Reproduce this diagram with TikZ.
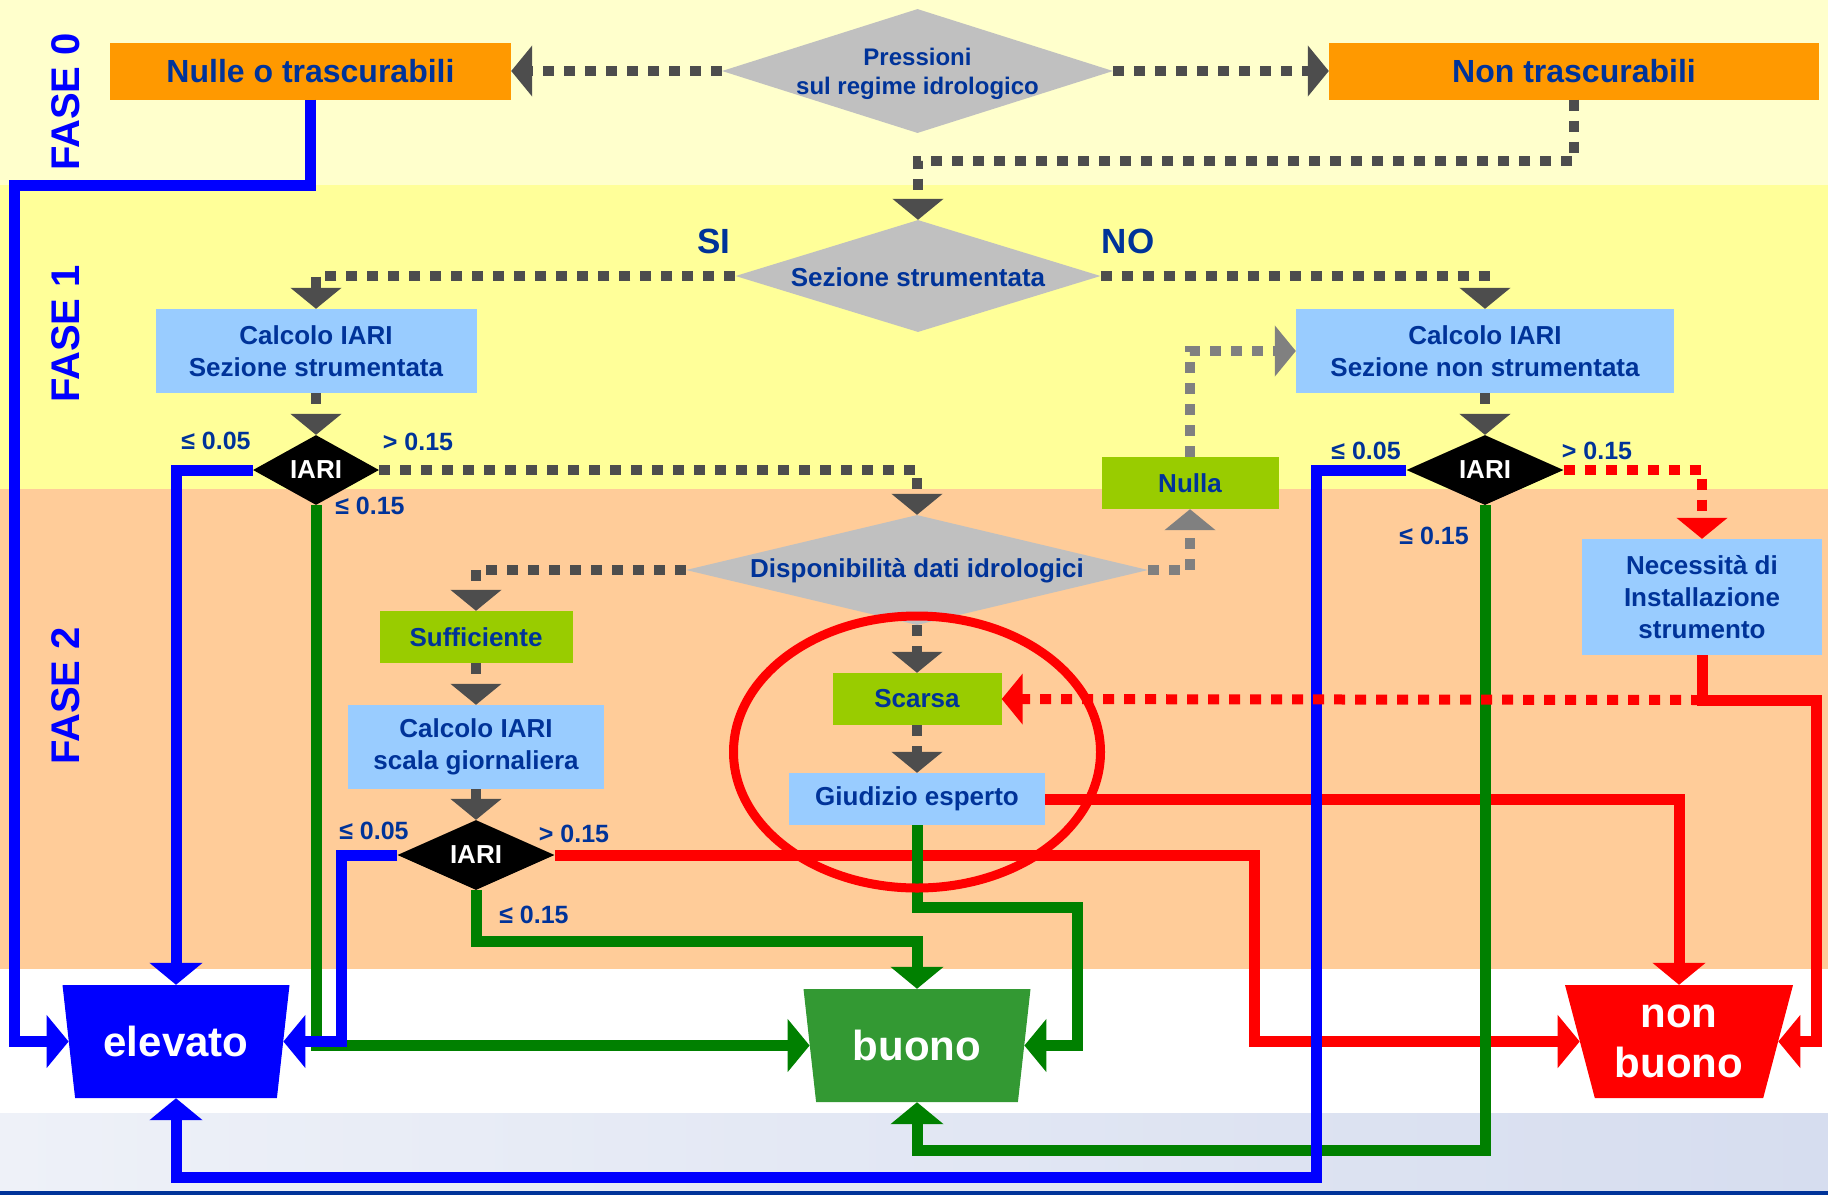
\documentclass[tikz,border=0pt]{standalone}
\usepackage{fontspec}
\setmainfont{Liberation Sans}
\usetikzlibrary{arrows.meta,shapes.geometric}
\definecolor{navy}{RGB}{0,51,153}
\definecolor{fblue}{RGB}{0,0,255}
\definecolor{bgA}{RGB}{255,255,204}
\definecolor{bgB}{RGB}{255,255,153}
\definecolor{bgC}{RGB}{255,204,153}
\definecolor{bandL}{RGB}{238,241,248}
\definecolor{bandR}{RGB}{214,221,239}
\definecolor{botline}{RGB}{0,51,153}
\definecolor{orng}{RGB}{255,153,0}
\definecolor{gdia}{RGB}{192,192,192}
\definecolor{lblue}{RGB}{153,204,255}
\definecolor{lgreen}{RGB}{153,204,0}
\definecolor{bgreen}{RGB}{51,153,51}
\definecolor{lgreenline}{RGB}{0,128,0}
\definecolor{dgrayl}{RGB}{77,77,77}
\definecolor{lgrayl}{RGB}{128,128,128}
\tikzset{
  txt/.style={text=navy, font=\bfseries\fontsize{26}{32}\selectfont, align=center, inner sep=0pt},
  obox/.style={rectangle, fill=orng, inner sep=0pt, text=navy, font=\bfseries\fontsize{32}{36}\selectfont},
  bbox/.style={rectangle, fill=lblue, txt},
  gbox/.style={rectangle, fill=lgreen, txt},
  gdiam/.style={diamond, fill=gdia, inner sep=0pt},
  kdiam/.style={diamond, fill=black, inner sep=0pt, text=white, font=\bfseries\fontsize{26}{30}\selectfont},
  trap/.style={trapezium, shape border rotate=180, trapezium stretches body, trapezium angle=67.8,
     minimum width=227pt, minimum height=113pt, inner sep=0pt, text=white, align=center,
     font=\bfseries\fontsize{42}{50}\selectfont},
  lab/.style={text=navy, font=\bfseries\fontsize{25}{28}\selectfont, inner sep=0pt},
  fase/.style={rotate=90, text=fblue, font=\bfseries\fontsize{40}{40}\selectfont, inner sep=0pt},
  sino/.style={text=navy, font=\bfseries\fontsize{35}{40}\selectfont, inner sep=0pt},
  solid line/.style={line width=11pt, -{Triangle[length=22pt,width=52pt]}},
  bl/.style={draw=blue, solid line},
  gr/.style={draw=lgreenline, solid line},
  rd/.style={draw=red, solid line},
  dotline/.style={line width=10pt, dash pattern=on 11pt off 10pt, -{Triangle[length=21pt,width=50pt]}},
  dg/.style={draw=dgrayl, dotline},
  lg/.style={draw=lgrayl, dotline},
  rdot/.style={draw=red, dotline},
}
\begin{document}
\begin{tikzpicture}[x=1pt,y=-1pt]
\useasboundingbox (0,0) rectangle (1828,1195);
% background bands
\fill[bgA] (0,0) rectangle (1828,185);
\fill[bgB] (0,185) rectangle (1828,489);
\fill[bgC] (0,489) rectangle (1828,969);
\fill[white] (0,969) rectangle (1828,1113);
\shade[left color=bandL, right color=bandR] (0,1113) rectangle (1828,1191);
\fill[botline] (0,1191) rectangle (1828,1195);

% phase labels
\node[fase] (f0) at (66,102) {FASE 0};
\node[fase] (f1) at (66,334) {FASE 1};
\node[fase] (f2) at (66,696) {FASE 2};

% nodes
\node[obox, minimum width=401pt, minimum height=57pt] (nulle) at (310.5,71) {Nulle o trascurabili};
\node[obox, minimum width=490pt, minimum height=57pt] (nontr) at (1574,71) {Non trascurabili};
\node[gdiam, minimum width=391pt, minimum height=124pt] (pres) at (917.5,71) {};
\node[txt, font=\bfseries\fontsize{24}{29}\selectfont] (prest) at (917.5,74) {Pressioni\\sul regime idrologico};
\node[gdiam, minimum width=365pt, minimum height=112pt] (sez) at (918,276) {};
\node[txt] (sezt) at (918,277) {Sezione strumentata};
\node[sino] (si) at (714,241) {SI};
\node[sino] (no) at (1128,241) {NO};
\node[bbox, minimum width=321pt, minimum height=84pt] (calc1) at (316,351) {Calcolo IARI\\Sezione strumentata};
\node[bbox, minimum width=378pt, minimum height=84pt] (calc2) at (1485,351) {Calcolo IARI\\Sezione non strumentata};
\node[kdiam, minimum width=126pt, minimum height=64pt] (ia1) at (316,470) {IARI};
\node[kdiam, minimum width=157pt, minimum height=64pt] (ia2) at (1485,470) {IARI};
\node[gdiam, minimum width=462pt, minimum height=110pt] (disp) at (917,570) {};
\node[txt] (dispt) at (917,571) {Disponibilità dati idrologici};
\node[gbox, minimum width=177pt, minimum height=52pt] (nulla) at (1190,483) {Nulla};
\node[gbox, minimum width=193pt, minimum height=52pt] (suff) at (476,637) {Sufficiente};
\node[bbox, minimum width=256pt, minimum height=84pt] (calc3) at (476,747) {Calcolo IARI\\scala giornaliera};
\node[kdiam, minimum width=157pt, minimum height=64pt] (ia3) at (476,855) {IARI};
\node[gbox, minimum width=169pt, minimum height=52pt] (scarsa) at (917,699) {Scarsa};
\node[bbox, minimum width=256pt, minimum height=52pt] (giud) at (917,799) {Giudizio esperto};
\node[bbox, minimum width=240pt, minimum height=116pt] (necc) at (1702,597) {Necessità di\\Installazione\\strumento};
\node[trap, fill=blue] (elev) at (176,1041.5) {elevato};
\node[trap, fill=bgreen] (buono) at (917,1045.5) {buono};
\node[trap, fill=red, minimum width=228pt] (nb) at (1679,1041.5) {non\\buono};
\coordinate (jn) at (1702,700);

% labels
\node[lab] (l1a) at (216,441) {≤ 0.05};
\node[lab] (l1b) at (418,442) {> 0.15};
\node[lab] (l1c) at (370,506) {≤ 0.15};
\node[lab] (l2a) at (1366,451) {≤ 0.05};
\node[lab] (l2b) at (1597,451) {> 0.15};
\node[lab] (l2c) at (1434,536) {≤ 0.15};
\node[lab] (l3a) at (374,831) {≤ 0.05};
\node[lab] (l3b) at (574,834) {> 0.15};
\node[lab] (l3c) at (534,915) {≤ 0.15};

% red solid connectors
\draw[rd] (ia3.east) -- ++(700,0) |- (nb.west);
\draw[rd] (giud.east) -| (nb.north);
\draw[rd] (necc.south) -- (jn) -- ++(114,0) |- (nb.east);
% green connectors
\draw[gr] (ia1.south) |- (buono.west);
\draw[gr] (ia3.south) -- ++(0,51) -| (buono.north);
\draw[gr] (giud.south) |- (1077,907) |- (buono.east);
\draw[gr] (ia2.south) -- ++(0,645) -| (buono.south);
% blue connectors
\draw[bl] (nulle.south) |- (14,185) |- (elev.west);
\draw[bl] (ia1.west) -| (elev.north);
\draw[bl] (ia3.west) -- ++(-56,0) |- (elev.east);
\draw[bl] (ia2.west) -| (1316,1177) -| (elev.south);
% red dotted
\draw[rdot] (ia2.east) -| (necc.north);
\draw[rdot] (jn) -- (scarsa.east);
% dark gray dotted
\draw[dg] (pres.west) -- (nulle.east);
\draw[dg] (pres.east) -- (nontr.west);
\draw[dg] (nontr.south) -- ++(0,61) -| (sez.north);
\draw[dg] (sez.west) -| (calc1.north);
\draw[dg] (sez.east) -| (calc2.north);
\draw[dg] (calc1.south) -- (ia1.north);
\draw[dg] (calc2.south) -- (ia2.north);
\draw[dg] (ia1.east) -| (disp.north);
\draw[dg] (disp.west) -| (suff.north);
\draw[dg] (suff.south) -- (calc3.north);
\draw[dg] (calc3.south) -- (ia3.north);
\draw[dg] (disp.south) -- (scarsa.north);
\draw[dg] (scarsa.south) -- (giud.north);
% light gray dotted
\draw[lg] (disp.east) -| (nulla.south);
\draw[lg] (nulla.north) |- (calc2.west);

% highlight ellipse
\node[ellipse, draw=red, line width=9pt, minimum width=367pt, minimum height=272pt, inner sep=0pt] (ring) at (917,752) {};
\end{tikzpicture}
\end{document}
